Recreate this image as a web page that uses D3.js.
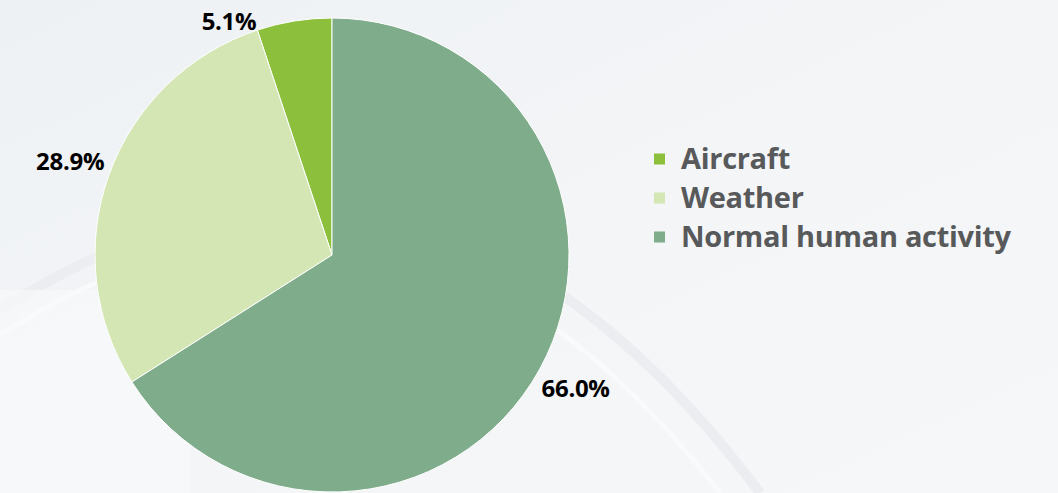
<!DOCTYPE html>
<meta charset="utf-8">
<style>
    body { margin: 0; }
    svg { display: block; font-family: "Open Sans", sans-serif; }
    .pct { font-weight: 700; font-size: 24px; fill: #000; letter-spacing: -0.3px; }
    .legend text { font-weight: 700; font-size: 29px; fill: #58595b; letter-spacing: -0.3px; }
</style>
<body>
<script src="https://cdn.jsdelivr.net/npm/d3@7"></script>
<script>
    const categories = ["Aircraft", "Weather", "Normal human activity"];
    const shares = [5.1, 28.9, 66.0];
    const labels = ["5.1%", "28.9%", "66.0%"];
    const colors = ["#8bbf3c", "#d3e6b3", "#7fac8a"];

    const width = 1058, height = 493;
    const cx = 332, cy = 255, radius = 237, labelRadius = 278;

    const svg = d3.select("body").append("svg")
        .attr("width", width)
        .attr("height", height);

    // soft background
    const defs = svg.append("defs");
    const bg = defs.append("linearGradient").attr("id", "bg")
        .attr("x1", 0).attr("y1", 0).attr("x2", 1).attr("y2", 1);
    bg.append("stop").attr("offset", 0).attr("stop-color", "#eef1f4");
    bg.append("stop").attr("offset", 0.5).attr("stop-color", "#f3f5f7");
    bg.append("stop").attr("offset", 1).attr("stop-color", "#f6f7f9");
    svg.append("rect").attr("width", width).attr("height", height).attr("fill", "url(#bg)");

    // faint arcs in the backdrop
    svg.append("path")
        .attr("d", "M0,310 Q420,40 760,493")
        .attr("fill", "none").attr("stroke", "#ebedf0").attr("stroke-width", 10);
    svg.append("path")
        .attr("d", "M0,335 Q400,80 720,493")
        .attr("fill", "none").attr("stroke", "#f9fafb").attr("stroke-width", 5);
    svg.append("rect").attr("x", 0).attr("y", 290).attr("width", 190).attr("height", 203)
        .attr("fill", "#f9fafb").attr("opacity", 0.6);

    const color = d3.scaleOrdinal().domain(categories).range(colors);

    // slices run counter-clockwise from 12 o'clock in category order
    const pie = d3.pie()
        .sort(null)
        .value(d => d.value)
        .startAngle(2 * Math.PI)
        .endAngle(0);

    const data = categories.map((c, i) => ({ name: c, value: shares[i], label: labels[i] }));
    const arcs = pie(data);

    const arc = d3.arc().innerRadius(0).outerRadius(radius);
    const outer = d3.arc().innerRadius(labelRadius).outerRadius(labelRadius);

    const g = svg.append("g").attr("transform", `translate(${cx},${cy})`);

    g.selectAll("path.slice")
        .data(arcs)
        .enter().append("path")
        .attr("class", "slice")
        .attr("d", arc)
        .attr("fill", d => color(d.data.name))
        .attr("stroke", "#ffffff")
        .attr("stroke-width", 1);

    // percentage labels, outside end
    g.selectAll("text.pct")
        .data(arcs)
        .enter().append("text")
        .attr("class", "pct")
        .each(function (d) {
            const [x, y] = outer.centroid(d);
            const t = d3.select(this);
            if (cy + y < 20) {
                // no room above: hang it at the outer corner of the slice
                const a = Math.min(d.startAngle, d.endAngle);
                t.attr("x", radius * Math.sin(a) - 1)
                 .attr("y", -radius * Math.cos(a))
                 .attr("text-anchor", "end");
            } else {
                t.attr("x", x).attr("y", y).attr("dy", "0.35em")
                 .attr("text-anchor", "middle");
            }
        })
        .text(d => d.data.label);

    // legend
    const legend = svg.append("g")
        .attr("class", "legend")
        .attr("transform", "translate(654,159)");

    const row = legend.selectAll("g")
        .data(categories)
        .enter().append("g")
        .attr("transform", (d, i) => `translate(0,${i * 39})`);

    row.append("rect")
        .attr("x", 0).attr("y", -5.5)
        .attr("width", 11).attr("height", 11)
        .attr("fill", d => color(d));

    row.append("text")
        .attr("x", 27)
        .attr("y", 10)
        .text(d => d);
</script>
</body>
